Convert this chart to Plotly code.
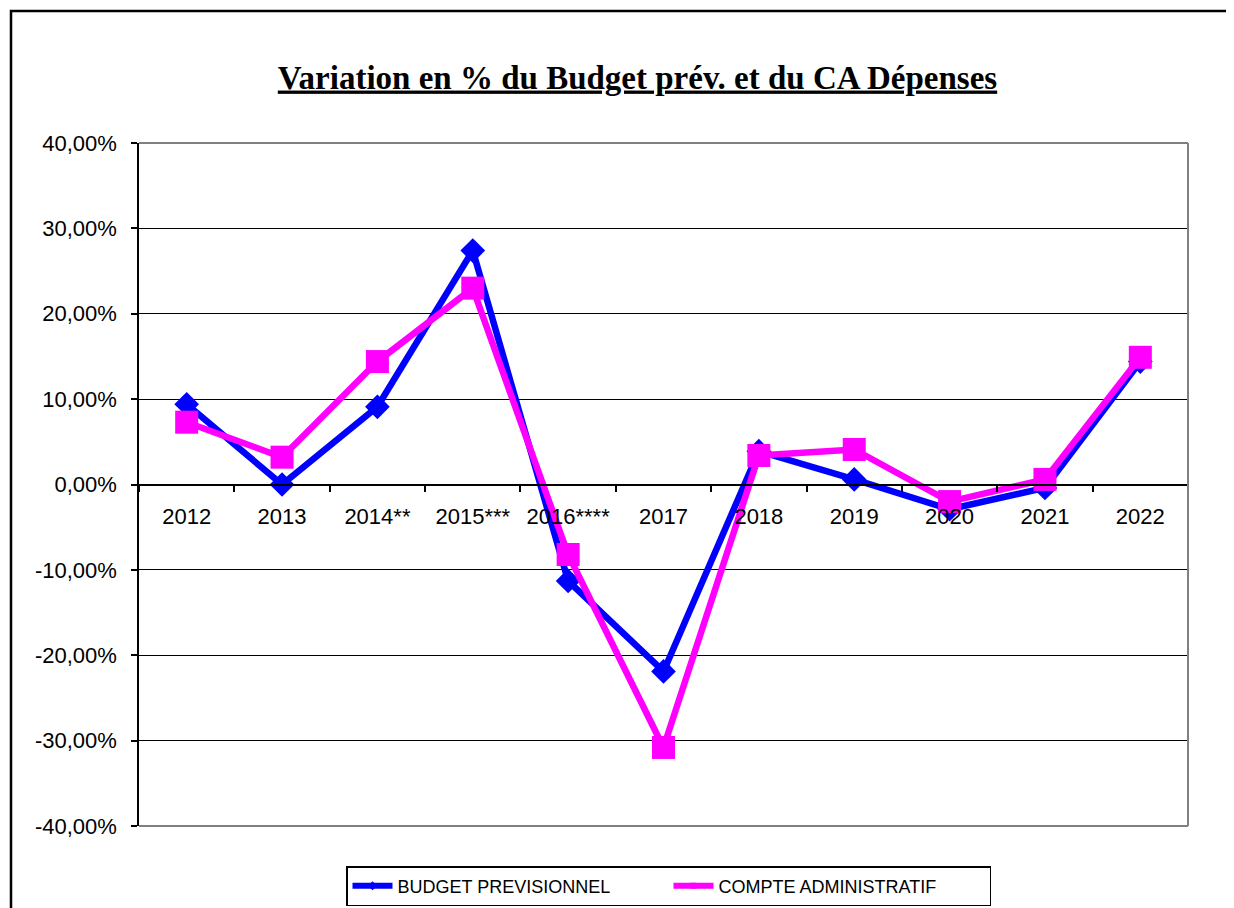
import plotly.graph_objects as go

categories = ["2012", "2013", "2014**", "2015***", "2016****", "2017",
              "2018", "2019", "2020", "2021", "2022"]
budget_previsionnel = [0.094, 0.000, 0.091, 0.274, -0.113, -0.219,
                       0.039, 0.006, -0.029, -0.004, 0.144]
compte_administratif = [0.073, 0.032, 0.144, 0.230, -0.082, -0.308,
                        0.034, 0.041, -0.020, 0.006, 0.149]
y_ticks = [-0.4, -0.3, -0.2, -0.1, 0.0, 0.1, 0.2, 0.3, 0.4]
y_tick_labels = ["-40,00%", "-30,00%", "-20,00%", "-10,00%", "0,00%",
                 "10,00%", "20,00%", "30,00%", "40,00%"]

BLUE = "#0000FF"
PINK = "#FF00FF"
FONT = "Liberation Sans, Arial, sans-serif"

fig = go.Figure()
fig.add_trace(go.Scatter(
    x=categories, y=budget_previsionnel, mode="lines+markers",
    name="BUDGET PREVISIONNEL", showlegend=False,
    line=dict(color=BLUE, width=6.5),
    marker=dict(symbol="diamond", size=19, color=BLUE)))
fig.add_trace(go.Scatter(
    x=categories, y=compte_administratif, mode="lines+markers",
    name="COMPTE ADMINISTRATIF", showlegend=False,
    line=dict(color=PINK, width=6.5),
    marker=dict(symbol="square", size=23, color=PINK)))
# legend entries with small symbols
fig.add_trace(go.Scatter(
    x=[None], y=[None], mode="lines+markers", name="BUDGET PREVISIONNEL",
    line=dict(color=BLUE, width=6), marker=dict(symbol="diamond", size=7, color=BLUE)))
fig.add_trace(go.Scatter(
    x=[None], y=[None], mode="lines+markers", name="COMPTE ADMINISTRATIF",
    line=dict(color=PINK, width=6), marker=dict(symbol="square", size=6, color=PINK)))

# page body has an 8px margin; figure coordinates = screen - 8
W, H = 1226, 900
L, T = 131, 135
pw, ph = 1049, 683
R = W - L - pw
B = H - T - ph
OFF = 8

fig.update_layout(
    width=W, height=H,
    margin=dict(l=L, r=R, t=T, b=B, pad=0, autoexpand=False),
    paper_bgcolor="white", plot_bgcolor="white",
    font=dict(family=FONT, color="black", size=22),
    title=dict(
        text="<b><u>Variation en % du Budget prév. et du CA Dépenses</u></b>",
        x=(637.5 - OFF) / W, xref="container", xanchor="center",
        y=1 - (77 - OFF) / H, yref="container", yanchor="middle",
        font=dict(family="Liberation Serif, Times New Roman, serif", size=33, color="black")),
    xaxis=dict(
        type="category", range=[-0.5, 10.5],
        anchor="free", position=0.5,
        showline=True, linecolor="black", linewidth=1.5,
        ticks="outside", tickson="boundaries", ticklen=7, tickcolor="black", tickwidth=1.5,
        ticklabelstandoff=12,
        showgrid=False, tickfont=dict(size=22, family=FONT)),
    yaxis=dict(
        range=[-0.4, 0.4], tickvals=y_ticks, ticktext=y_tick_labels,
        showline=True, linecolor="black", linewidth=1.5,
        ticks="outside", ticklen=6, tickcolor="black", tickwidth=1.5,
        ticklabelstandoff=10,
        showgrid=True, gridcolor="black", gridwidth=1.2,
        zeroline=False, tickfont=dict(size=22, family=FONT)),
    legend=dict(
        orientation="h", x=(668.5 - 139) / pw, xanchor="center",
        y=-((866 - OFF) - (T + ph)) / ph, yanchor="top",
        bordercolor="black", borderwidth=1.5, bgcolor="white",
        font=dict(family=FONT, size=18, color="black"),
        itemwidth=40, entrywidth=266, tracegroupgap=0),
    shapes=[
        # grey plot-area border (top, right, bottom)
        dict(type="line", xref="paper", yref="paper", x0=0, x1=1, y0=1, y1=1,
             line=dict(color="#808080", width=2), layer="above"),
        dict(type="line", xref="paper", yref="paper", x0=1, x1=1, y0=0, y1=1,
             line=dict(color="#808080", width=2), layer="above"),
        dict(type="line", xref="paper", yref="paper", x0=0, x1=1, y0=0, y1=0,
             line=dict(color="#808080", width=2), layer="above"),
        # outer chart frame (cropped at right and bottom)
        dict(type="rect", xref="paper", yref="paper",
             x0=(3 - L) / pw, x1=(W + 30 - L) / pw,
             y0=-(H + 30 - (T + ph)) / ph, y1=((T + ph) - 3) / ph,
             line=dict(color="black", width=2.5), layer="below"),
    ],
)

fig.write_html("out.html")
